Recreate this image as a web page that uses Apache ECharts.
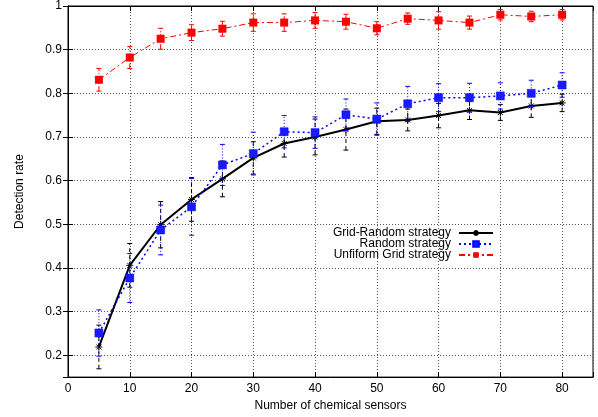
<!DOCTYPE html>
<html>
<head>
<meta charset="utf-8">
<script src="https://cdn.jsdelivr.net/npm/echarts@6/dist/echarts.min.js"></script>
<style>
  html, body { margin: 0; padding: 0; background: #fff; }
  #chart { width: 598px; height: 417px; }
</style>
</head>
<body>
<div id="chart"></div>
<script>
// number of sensors
var sensors = [5, 10, 15, 20, 25, 30, 35, 40, 45, 50, 55, 60, 65, 70, 75, 80];

// detection rate
var gridRandom = [0.219, 0.406, 0.499, 0.557, 0.604, 0.652, 0.685, 0.700, 0.717, 0.736, 0.739, 0.749, 0.761, 0.756, 0.771, 0.778];
var randomRate = [0.251, 0.377, 0.487, 0.540, 0.636, 0.662, 0.712, 0.710, 0.751, 0.741, 0.776, 0.790, 0.790, 0.794, 0.800, 0.819];
var uniformGrid = [0.831, 0.882, 0.925, 0.939, 0.948, 0.962, 0.962, 0.967, 0.964, 0.949, 0.971, 0.967, 0.962, 0.980, 0.976, 0.980];

// half height of the error bars
var gridRandomErr = [0.050, 0.050, 0.053, 0.050, 0.041, 0.037, 0.031, 0.041, 0.047, 0.030, 0.025, 0.028, 0.021, 0.018, 0.026, 0.020];
var randomErr = [0.053, 0.056, 0.057, 0.065, 0.047, 0.049, 0.037, 0.036, 0.036, 0.037, 0.040, 0.032, 0.033, 0.030, 0.030, 0.028];
var uniformErr = [0.026, 0.025, 0.024, 0.018, 0.017, 0.020, 0.020, 0.018, 0.017, 0.015, 0.013, 0.020, 0.015, 0.012, 0.012, 0.012];

var FONT = '"Liberation Sans", Arial, sans-serif';

function pairs(vals) {
  return sensors.map(function (x, i) { return [x, vals[i]]; });
}
function errData(vals, errs) {
  return sensors.map(function (x, i) { return [x, vals[i] - errs[i], vals[i] + errs[i]]; });
}

// vertical bar with small caps, same dash as the line
function errorBars(name, vals, errs, color, dash, z) {
  return {
    name: name,
    type: 'custom',
    z: z,
    clip: true,
    silent: true,
    data: errData(vals, errs),
    renderItem: function (params, api) {
      var lo = api.coord([api.value(0), api.value(1)]);
      var hi = api.coord([api.value(0), api.value(2)]);
      var w = 2.5;
      var style = { stroke: color, lineWidth: 1, lineDash: dash, fill: null };
      return {
        type: 'group',
        children: [
          { type: 'line', shape: { x1: lo[0], y1: lo[1], x2: hi[0], y2: hi[1] }, style: style },
          { type: 'line', shape: { x1: lo[0] - w, y1: lo[1], x2: lo[0] + w, y2: lo[1] }, style: { stroke: color, lineWidth: 1 } },
          { type: 'line', shape: { x1: hi[0] - w, y1: hi[1], x2: hi[0] + w, y2: hi[1] }, style: { stroke: color, lineWidth: 1 } }
        ]
      };
    }
  };
}

var star = 'path://M0,5L10,5M5,0L5,10M1.5,1.5L8.5,8.5M8.5,1.5L1.5,8.5';

var chart = echarts.init(document.getElementById('chart'));

var gridLine = { show: true, lineStyle: { color: '#555', width: 1, type: [1, 2] } };

function legendItem(name, top) {
  return {
    data: [name],
    align: 'right',
    right: 104,
    top: top,
    padding: 0,
    itemWidth: 34,
    itemHeight: 7,
    selectedMode: false,
    textStyle: { fontFamily: FONT, fontSize: 12, color: '#000', padding: [0, 3, 0, 0] }
  };
}

var option = {
  animation: false,
  backgroundColor: '#fff',
  grid: { left: 68, right: 5, top: 6, bottom: 39, show: true, borderColor: '#000', borderWidth: 1 },
  legend: [
    legendItem('Grid-Random strategy', 227),
    legendItem('Random strategy', 238),
    legendItem('Unfiform Grid strategy', 249)
  ],
  xAxis: [{
    type: 'value',
    min: 0,
    max: 85,
    minInterval: 10,
    maxInterval: 10,
    name: 'Number of chemical sensors',
    nameLocation: 'middle',
    nameGap: 22,
    nameTextStyle: { fontFamily: FONT, fontSize: 12, color: '#000' },
    axisLine: { show: true, lineStyle: { color: '#000', width: 1 } },
    axisTick: { show: true, inside: true, length: 5, lineStyle: { color: '#000' } },
    axisLabel: {
      fontFamily: FONT, fontSize: 12, color: '#000', margin: 6,
      formatter: function (v) { return v % 10 === 0 ? String(v) : ''; }
    },
    splitLine: gridLine
  }, {
    type: 'value',
    position: 'top',
    min: 0,
    max: 85,
    minInterval: 10,
    maxInterval: 10,
    axisLine: { show: true, lineStyle: { color: '#000' } },
    axisTick: { show: true, inside: true, length: 5, lineStyle: { color: '#000' } },
    axisLabel: { show: false },
    splitLine: { show: false }
  }],
  yAxis: [{
    type: 'value',
    min: 0.15,
    max: 1,
    splitNumber: 8,
    minInterval: 0.1,
    maxInterval: 0.1,
    name: 'Detection rate',
    nameLocation: 'middle',
    nameGap: 42,
    nameTextStyle: { fontFamily: FONT, fontSize: 12, color: '#000' },
    axisLine: { show: true, lineStyle: { color: '#000', width: 1 } },
    axisTick: { show: true, inside: true, length: 5, lineStyle: { color: '#000' } },
    axisLabel: {
      fontFamily: FONT, fontSize: 12, color: '#000', margin: 6,
      formatter: function (v) {
        var t = Math.round(v * 100);
        return t % 10 === 0 ? String(t / 100) : '';
      }
    },
    splitLine: gridLine
  }, {
    type: 'value',
    position: 'right',
    min: 0.15,
    max: 1,
    splitNumber: 8,
    minInterval: 0.1,
    maxInterval: 0.1,
    axisLine: { show: true, lineStyle: { color: '#000' } },
    axisTick: { show: true, inside: true, length: 5, lineStyle: { color: '#000' } },
    axisLabel: { show: false },
    splitLine: { show: false }
  }],
  series: [
    errorBars('gr-err', gridRandom, gridRandomErr, '#000', [4, 3], 2),
    {
      name: 'Grid-Random strategy',
      type: 'line',
      z: 3,
      data: pairs(gridRandom),
      symbol: star,
      symbolSize: 7,
      lineStyle: { color: '#000', width: 2 },
      itemStyle: { color: '#000', borderColor: '#000', borderWidth: 1 }
    },
    errorBars('r-err', randomRate, randomErr, '#0000ff', [1, 2], 4),
    {
      name: 'Random strategy',
      type: 'line',
      z: 5,
      data: pairs(randomRate),
      symbol: 'rect',
      symbolSize: 8,
      lineStyle: { color: '#0000ff', width: 1.5, type: [2, 3] },
      itemStyle: { color: '#1a1aff', borderColor: '#0000ff', borderWidth: 0.5 }
    },
    errorBars('u-err', uniformGrid, uniformErr, '#ff0000', [5, 2, 1, 2], 6),
    {
      name: 'Unfiform Grid strategy',
      type: 'line',
      z: 7,
      data: pairs(uniformGrid),
      symbol: 'rect',
      symbolSize: 8,
      lineStyle: { color: '#ff0000', width: 1, type: [6, 3, 2, 3] },
      itemStyle: { color: '#ff0000' }
    }
  ]
};

chart.setOption(option);
</script>
</body>
</html>
